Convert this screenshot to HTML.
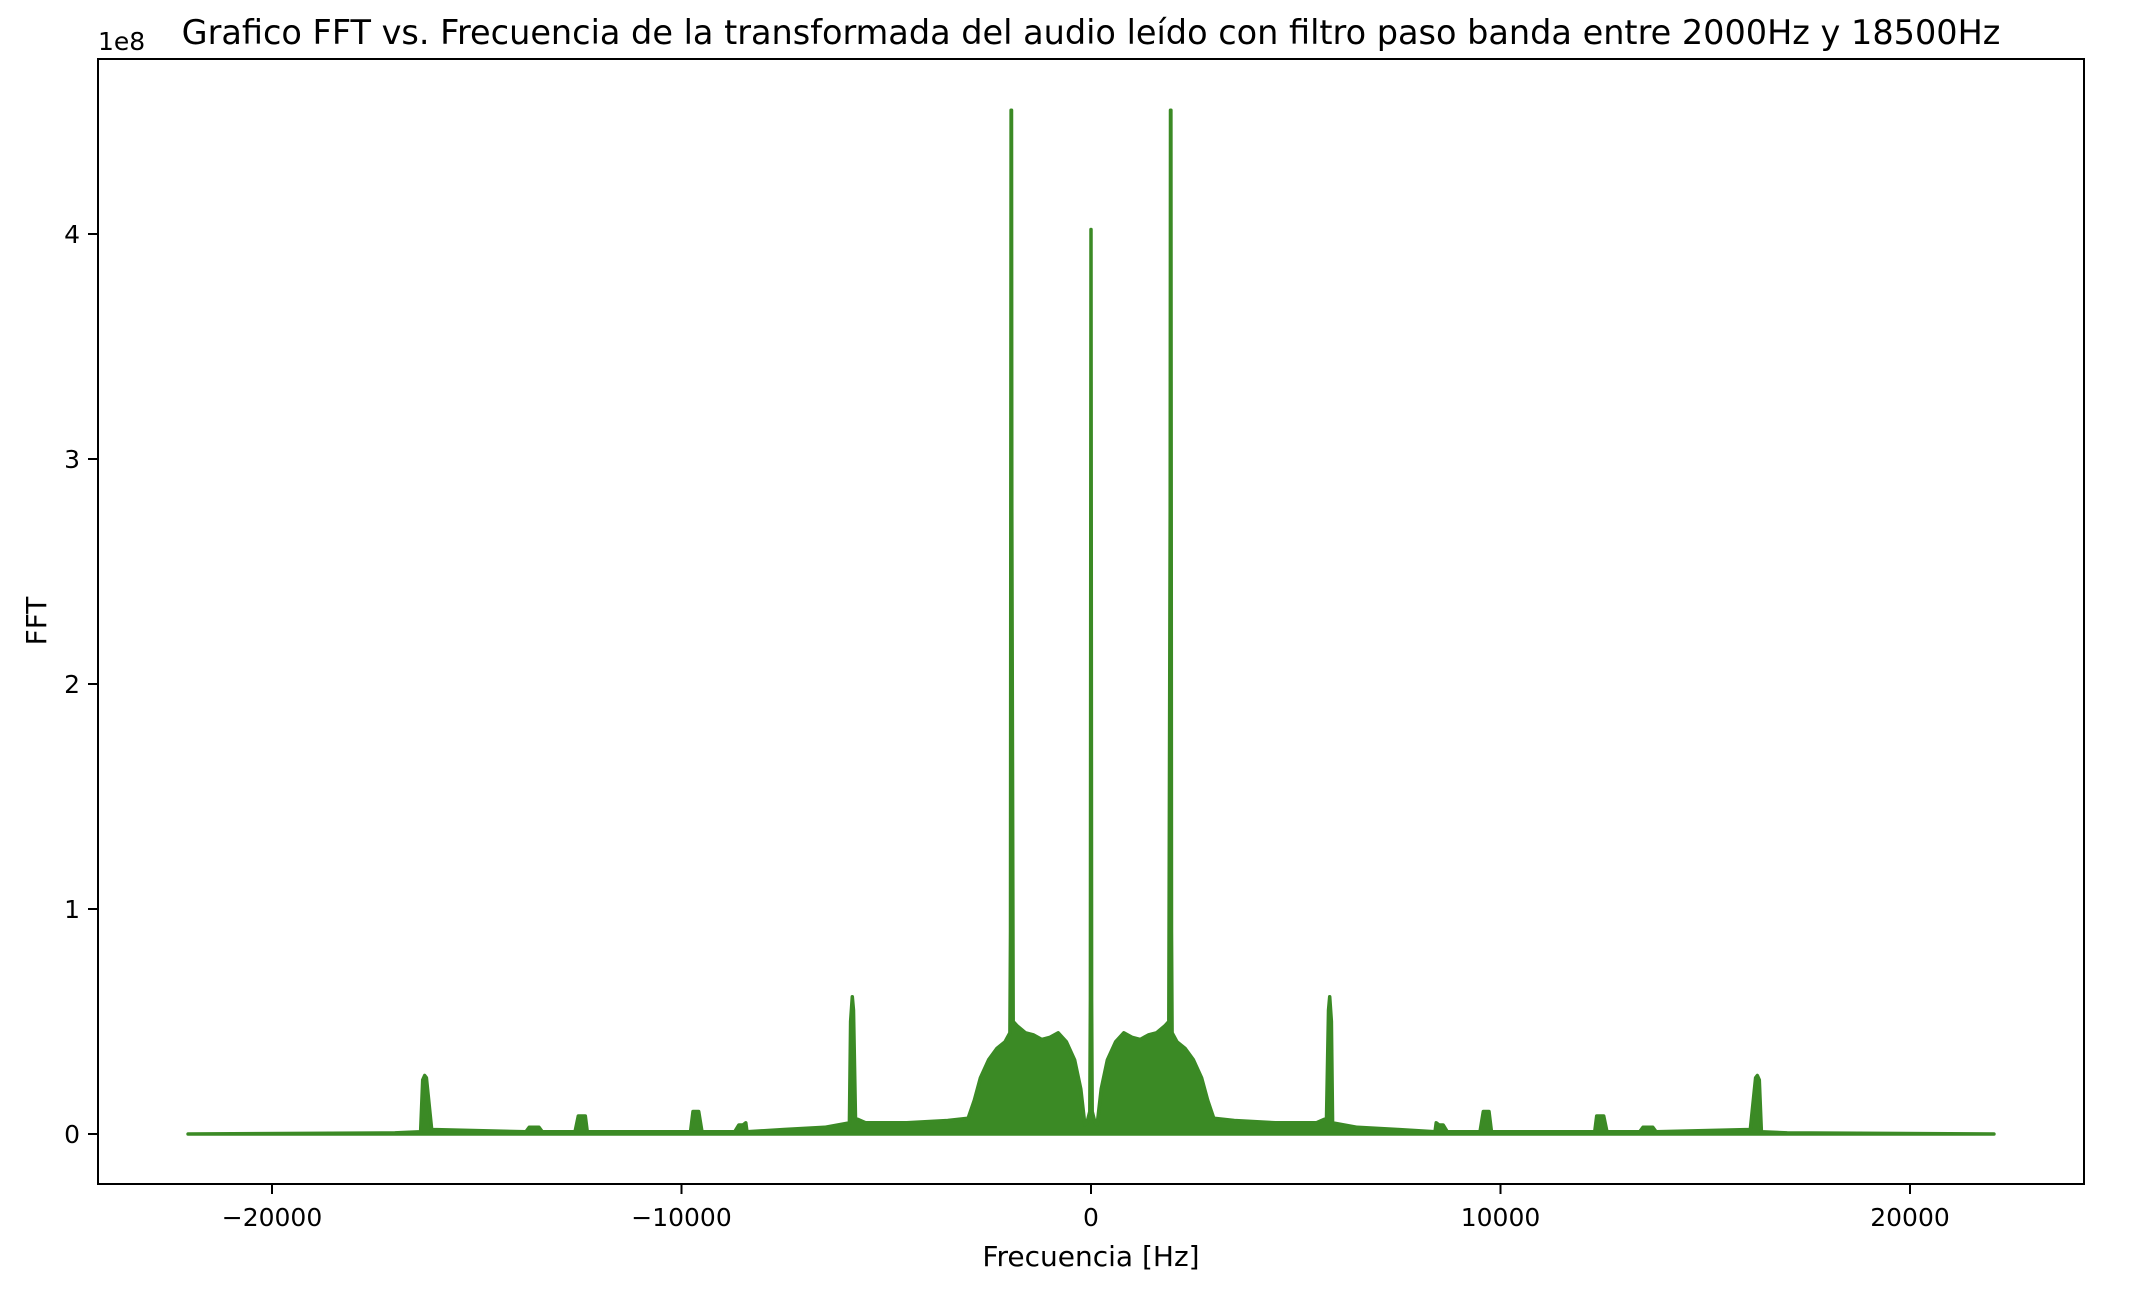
<!DOCTYPE html>
<html><head><meta charset="utf-8"><style>
html,body{margin:0;padding:0;background:#fff}
svg text{font-family:"DejaVu Sans","Liberation Sans",sans-serif;fill:#000}
</style></head><body>
<svg id="chart" width="2132" height="1284" viewBox="0 0 2132 1284" xmlns="http://www.w3.org/2000/svg">
<text x="1091" y="44" font-size="33.5" text-anchor="middle">Grafico FFT vs. Frecuencia de la transformada del audio leído con filtro paso banda entre 2000Hz y 18500Hz</text>
<text x="98" y="50" font-size="25">1e8</text>
<g id="plot"></g>
<rect x="98" y="59" width="1986" height="1125" fill="none" stroke="#000" stroke-width="2"/>
<g id="xticks"></g>
<g id="yticks"></g>
<text x="1091" y="1266" font-size="28" text-anchor="middle">Frecuencia [Hz]</text>
<text transform="translate(46,621) rotate(-90)" font-size="28" text-anchor="middle">FFT</text>
</svg>
<script>
// positive-frequency spectrum (Hz), amplitude in units of 1e8; mirrored for negative side
const freqHz = [0,15,30,100,150,250,400,600,800,1000,1200,1400,1600,1800,1900,1935,1942,1950,1958,1965,1980,2100,2300,2500,2700,2850,3000,3500,4500,5500,5750,5800,5830,5870,5900,6500,7500,8400,8430,8500,8600,8700,9500,9580,9650,9720,9780,11000,12300,12350,12450,12520,12600,13400,13480,13650,13720,13800,16100,16230,16270,16320,16370,17000,22050];
const ampE8  = [4.02,0.6,0.1,0.05,0.04,0.2,0.33,0.41,0.45,0.43,0.42,0.44,0.45,0.48,0.5,2.78,4.55,4.55,2.78,0.9,0.45,0.41,0.38,0.33,0.25,0.15,0.07,0.06,0.05,0.05,0.07,0.55,0.61,0.5,0.05,0.03,0.02,0.01,0.05,0.04,0.04,0.01,0.01,0.1,0.1,0.1,0.01,0.01,0.01,0.08,0.08,0.08,0.01,0.01,0.03,0.03,0.03,0.01,0.02,0.25,0.26,0.24,0.01,0.005,0];
const xTicks = [-20000,-10000,0,10000,20000];
const xTickLabels = ["\u221220000","\u221210000","0","10000","20000"];
const yTicks = [0,1,2,3,4];
const yTickLabels = ["0","1","2","3","4"];

const X0=1091, XS=0.04095, Y0=1134, YS=225;
const sx=f=>X0+f*XS, sy=v=>Y0-v*YS;
const NS="http://www.w3.org/2000/svg";
const plot=document.getElementById('plot');
const pts=[];
for(let i=freqHz.length-1;i>0;i--) pts.push([-freqHz[i],ampE8[i]]);
for(let i=0;i<freqHz.length;i++) pts.push([freqHz[i],ampE8[i]]);
let d='M'+sx(pts[0][0])+','+sy(0);
pts.forEach(p=>{d+=' L'+sx(p[0]).toFixed(1)+','+sy(p[1]).toFixed(1);});
d+=' L'+sx(pts[pts.length-1][0])+','+sy(0)+' Z';
const area=document.createElementNS(NS,'path');
area.setAttribute('d',d);area.setAttribute('fill','#3b8a25');
area.setAttribute('stroke','#3b8a25');area.setAttribute('stroke-width','3.5');area.setAttribute('stroke-linejoin','round');


plot.appendChild(area);

const xg=document.getElementById('xticks');
xTicks.forEach((t,i)=>{
  const l=document.createElementNS(NS,'line');
  l.setAttribute('x1',sx(t));l.setAttribute('x2',sx(t));l.setAttribute('y1',1184);l.setAttribute('y2',1194);
  l.setAttribute('stroke','#000');l.setAttribute('stroke-width','2');
  
  
  xg.appendChild(l);
  const tx=document.createElementNS(NS,'text');
  tx.setAttribute('x',sx(t));tx.setAttribute('y',1226);tx.setAttribute('font-size','25');tx.setAttribute('text-anchor','middle');
  tx.textContent=xTickLabels[i];
  
  
  xg.appendChild(tx);
});
const yg=document.getElementById('yticks');
yTicks.forEach((t,i)=>{
  const l=document.createElementNS(NS,'line');
  l.setAttribute('x1',88);l.setAttribute('x2',98);l.setAttribute('y1',sy(t));l.setAttribute('y2',sy(t));
  l.setAttribute('stroke','#000');l.setAttribute('stroke-width','2');
  
  
  yg.appendChild(l);
  const tx=document.createElementNS(NS,'text');
  tx.setAttribute('x',80);tx.setAttribute('y',sy(t)+9);tx.setAttribute('font-size','25');tx.setAttribute('text-anchor','end');
  tx.textContent=yTickLabels[i];
  
  
  yg.appendChild(tx);
});
</script>
</body></html>
